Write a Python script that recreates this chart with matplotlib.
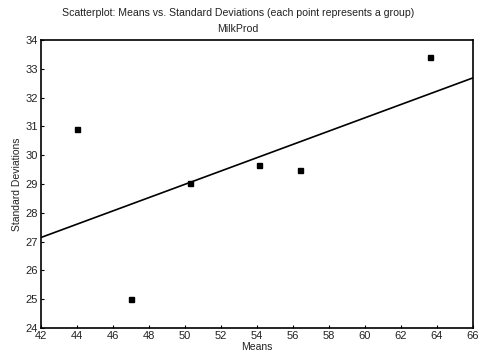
import numpy as np
import matplotlib
matplotlib.use("Agg")
import matplotlib.pyplot as plt

plt.rcParams['font.family'] = ['Liberation Sans', 'DejaVu Sans']

means = [44.0, 47.0, 50.3, 54.1, 56.4, 63.6]
stds = [30.9, 25.0, 29.05, 29.65, 29.5, 33.4]
xticks = list(range(42, 67, 2))
yticks = list(range(24, 35, 1))

fig = plt.figure(figsize=(4.8, 3.63), dpi=100)
ax = fig.add_axes([0.0854, 0.0964, 0.9, 0.7934])

ax.plot(means, stds, 's', color='black', markersize=3.6, linestyle='none')
slope, intercept = np.polyfit(means, stds, 1)
xl = np.array([42, 66])
ax.plot(xl, slope * xl + intercept, color='black', linewidth=1.2)

ax.set_xlim(42, 66)
ax.set_ylim(24, 34)
ax.set_xticks(xticks)
ax.set_yticks(yticks)
ax.tick_params(direction='in', length=2.5, width=0.8, labelsize=8, pad=2, labelcolor='#222222')
for s in ax.spines.values():
    s.set_linewidth(1.2)
ax.set_xlabel('Means', fontsize=7.5, labelpad=1, color='#222222')
ax.set_ylabel('Standard Deviations', fontsize=7.5, labelpad=3, color='#222222')

fig.text(0.496, 0.963, 'Scatterplot: Means vs. Standard Deviations (each point represents a group)',
         ha='center', va='center', fontsize=7.6, color='#222222')
fig.text(0.496, 0.921, 'MilkProd', ha='center', va='center', fontsize=7.6, color='#222222')

fig.savefig('out.png', dpi=100)
